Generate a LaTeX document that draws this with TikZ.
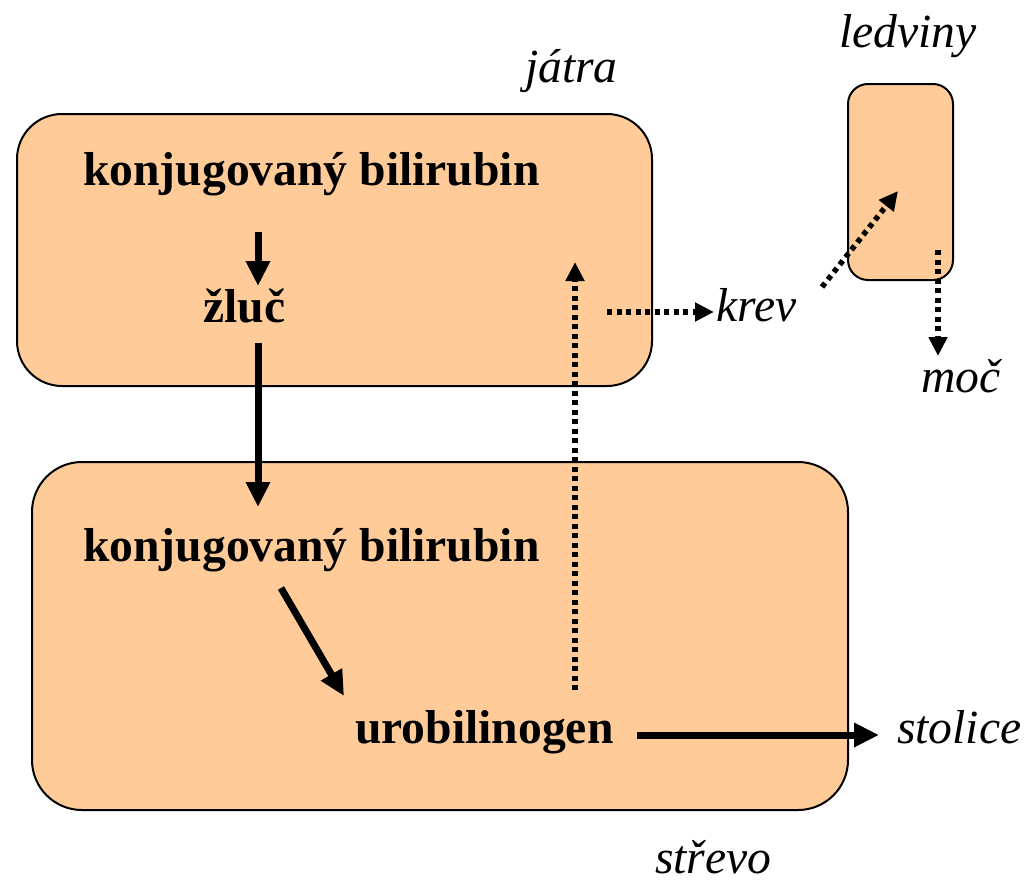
\documentclass[tikz,border=0pt]{standalone}
\usepackage{fontspec}
\setmainfont{Liberation Serif}
\usetikzlibrary{arrows.meta}
\definecolor{organ}{HTML}{FFCC99}
\begin{document}
\begin{tikzpicture}[x=1pt,y=-1pt,
  organbox/.style={draw=black,line width=2pt,fill=organ,inner sep=0pt,outer sep=0pt},
  boldlabel/.style={inner sep=0pt,anchor=base west,font=\fontsize{47.6}{56}\selectfont\bfseries},
  itlabel/.style={inner sep=0pt,anchor=base west,font=\fontsize{47.6}{56}\selectfont\itshape},
  solidarrow/.style={line width=7pt,-{Triangle[length=25pt,width=23pt]}},
  dotarrow/.style={line width=5.5pt,dash pattern=on 5pt off 4.5pt,-{Triangle[length=19pt,width=18pt]}}
]
\useasboundingbox (0,0) rectangle (1025,883);
% organs
\node[organbox,rounded corners=45pt,minimum width=635pt,minimum height=272pt] (liver) at (334.5,250) {};
\node[organbox,rounded corners=50pt,minimum width=816pt,minimum height=348pt] (gut) at (440,636) {};
\node[organbox,rounded corners=20pt,minimum width=105pt,minimum height=196pt] (kidney) at (900.5,182) {};
% labels
\node[boldlabel] (kb1) at (83,185) {konjugovaný bilirubin};
\node[boldlabel] (zluc) at (203,322) {žluč};
\node[boldlabel] (kb2) at (83,561) {konjugovaný bilirubin};
\node[boldlabel] (uro) at (355,743) {urobilinogen};
\node[itlabel] (jatra) at (525,82) {játra};
\node[itlabel] (ledviny) at (839,48) {ledviny};
\node[itlabel] (krev) at (716,321) {krev};
\node[itlabel] (moc) at (921,392) {moč};
\node[itlabel] (stolice) at (897,743) {stolice};
\node[itlabel] (strevo) at (655,873) {střevo};
% arrow end points
\coordinate (a1s) at (258,232); \coordinate (a1e) at (258,286);
\coordinate (a2s) at (258,343); \coordinate (a2e) at (258,507);
\coordinate (a3s) at (281,588); \coordinate (a3e) at (344,696);
\coordinate (a4s) at (637,735); \coordinate (a4e) at (879,735);
\coordinate (d1s) at (575,690); \coordinate (d1e) at (575,262);
\coordinate (d2s) at (607,312); \coordinate (d2e) at (714,312);
\coordinate (d3s) at (822,287); \coordinate (d3e) at (898,191);
\coordinate (d4s) at (938,250); \coordinate (d4e) at (938,356);
% solid arrows
\draw[solidarrow] (a1s) -- (a1e);
\draw[solidarrow] (a2s) -- (a2e);
\draw[solidarrow] (a3s) -- (a3e);
\draw[solidarrow] (a4s) -- (a4e);
% dotted arrows
\draw[dotarrow] (d1s) -- (d1e);
\draw[dotarrow] (d2s) -- (d2e);
\draw[dotarrow] (d3s) -- (d3e);
\draw[dotarrow] (d4s) -- (d4e);
\end{tikzpicture}
\end{document}
